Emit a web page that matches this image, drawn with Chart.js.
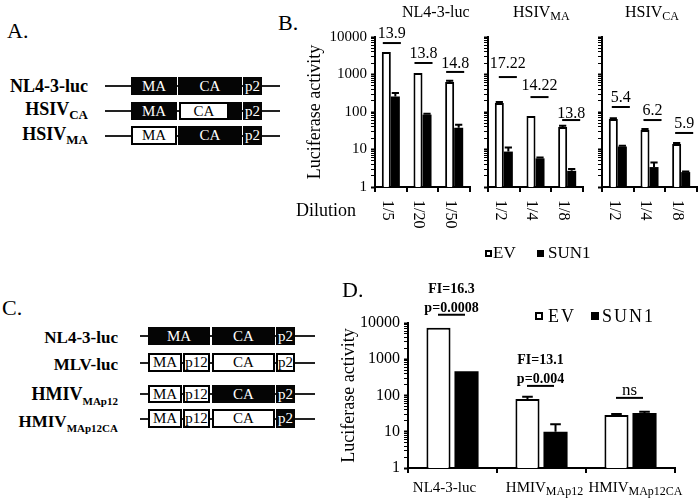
<!DOCTYPE html>
<html>
<head>
<meta charset="utf-8">
<script src="https://cdn.jsdelivr.net/npm/chart.js@4.4.0/dist/chart.umd.min.js"></script>
<style>
  html, body { margin: 0; padding: 0; background: #fff; }
  #fig { position: relative; width: 700px; height: 499px; overflow: hidden; font-family: "Liberation Serif", "Times New Roman", serif; color: #000; }
  #fig canvas { position: absolute; }
  .t { position: absolute; white-space: nowrap; line-height: 1; }
  .seg { position: absolute; box-sizing: border-box; display: flex; align-items: center; justify-content: center; font-size: 15px; line-height: 1; }
  .k { background: #050505; color: #fff; }
  .w { background: #fff; color: #000; border: 2px solid #000; }
  .ln { position: absolute; height: 2px; background: #222; }
</style>
</head>
<body>
<div id="fig">
  <canvas id="b1" width="172" height="250" style="left:304px;top:0"></canvas>
  <canvas id="b2" width="112" height="250" style="left:476px;top:0"></canvas>
  <canvas id="b3" width="110" height="250" style="left:590px;top:0"></canvas>
  <canvas id="d1" width="362" height="224" style="left:338px;top:275px"></canvas>
</div>
<script>
// panel B, NL4-3-luc
var nlDilutions = ['1/5', '1/20', '1/50'];
var nlEV = [4000, 1100, 630];
var nlEVErr = [0, 0, 50];
var nlSUN1 = [260, 85, 38];
var nlSUN1Err = [60, 5, 8];
var nlFold = ['13.9', '13.8', '14.8'];
var nlFoldAt = [6900, 2030, 1170];

// panel B, HSIV MA
var maDilutions = ['1/2', '1/4', '1/8'];
var maEV = [175, 78, 40];
var maEVErr = [10, 0, 3];
var maSUN1 = [8.8, 5.8, 2.7];
var maSUN1Err = [2.5, 0.3, 0.3];
var maFold = ['17.22', '14.22', '13.8'];
var maFoldAt = [855, 250, 61];

// panel B, HSIV CA
var caDilutions = ['1/2', '1/4', '1/8'];
var caEV = [65, 33, 14];
var caEVErr = [3, 2, 1];
var caSUN1 = [12, 3.4, 2.5];
var caSUN1Err = [0.5, 1.1, 0.1];
var caFold = ['5.4', '6.2', '5.9'];
var caFoldAt = [136, 61, 27.6];

// panel D
var dCategories = ['NL4-3-luc', 'HMIV_MAp12', 'HMIV_MAp12CA'];
var dEV = [7400, 80, 29];
var dEVErr = [0, 12, 2];
var dSUN1 = [470, 10, 33];
var dSUN1Err = [0, 6, 2.5];
var dNotes = [['FI=16.3', 'p=0.0008'], ['FI=13.1', 'p=0.004'], ['ns']];
var dNoteAt = [16900, 184, 86];

var yTickLabels = [1, 10, 100, 1000, 10000];

var serif = '"Liberation Serif", "Times New Roman", serif';
Chart.defaults.font.family = serif;
Chart.defaults.color = '#000';

var yTickValues = [];
yTickLabels.forEach(function (v, i) {
    if (i === yTickLabels.length - 1) { yTickValues.push(v); return; }
    for (var m = 1; m < 10; m++) yTickValues.push(v * m);
});

function logAxis(width, withLabels, size) {
    return {
        type: 'logarithmic', min: 1, max: 10000, z: 1,
        afterBuildTicks: function (s) { s.ticks = yTickValues.map(function (v) { return { value: v }; }); },
        afterFit: function (s) { s.width = width; },
        ticks: {
            autoSkip: false, padding: 4, font: { size: size },
            callback: function (v) { return (withLabels && yTickLabels.indexOf(v) >= 0) ? String(v) : ''; }
        },
        grid: {
            drawOnChartArea: false, tickLength: 4, color: '#000',
            tickWidth: function (c) { return (c.tick && yTickLabels.indexOf(c.tick.value) >= 0) ? 2 : 1; }
        },
        border: { color: '#000', width: 2 },
        title: { display: withLabels, text: 'Luciferase activity', font: { size: 18 }, padding: 0 }
    };
}

function catAxis(height) {
    return {
        type: 'category', z: 1,
        afterFit: function (s) { s.height = height; },
        ticks: { display: false },
        grid: { drawOnChartArea: false, offset: true, tickLength: 5, color: '#000', lineWidth: 2 },
        border: { color: '#000', width: 2 }
    };
}

function drawErrors(ctx, yScale, bars, vals, errs, capFrac) {
    bars.forEach(function (bar, i) {
        if (!errs[i]) return;
        var top = yScale.getPixelForValue(vals[i] + errs[i]);
        var hw = bar.width * capFrac;
        ctx.beginPath();
        ctx.moveTo(bar.x, bar.y); ctx.lineTo(bar.x, top);
        ctx.moveTo(bar.x - hw, top); ctx.lineTo(bar.x + hw, top);
        ctx.stroke();
    });
}

function panelB(id, yWidth, padRight, dil, ev, evErr, sun, sunErr, fold, foldAt, withLabels, lift, shift) {
    var deco = {
        id: 'deco',
        afterDraw: function (chart) {
            var ctx = chart.ctx, y = chart.scales.y, x = chart.scales.x;
            var a = chart.getDatasetMeta(0).data, b = chart.getDatasetMeta(1).data;
            ctx.save();
            ctx.strokeStyle = '#000'; ctx.fillStyle = '#000'; ctx.lineWidth = 2;
            drawErrors(ctx, y, a, ev, evErr, 0.4);
            drawErrors(ctx, y, b, sun, sunErr, 0.4);
            ctx.font = '16px ' + serif;
            ctx.textAlign = 'center'; ctx.textBaseline = 'alphabetic';
            fold.forEach(function (f, i) {
                var x0 = a[i].x - a[i].width / 2 + shift, x1 = b[i].x + b[i].width / 2 + shift;
                var yy = y.getPixelForValue(foldAt[i]);
                ctx.beginPath(); ctx.moveTo(x0, yy); ctx.lineTo(x1, yy); ctx.stroke();
                ctx.fillText(f, (x0 + x1) / 2, yy - lift[i]);
            });
            // dilution labels, read top to bottom
            ctx.textAlign = 'left'; ctx.textBaseline = 'middle';
            dil.forEach(function (d, i) {
                ctx.save();
                ctx.translate(x.getPixelForValue(i) - 4, chart.chartArea.bottom + 13);
                ctx.rotate(Math.PI / 2);
                ctx.fillText(d, 0, 0);
                ctx.restore();
            });
            ctx.restore();
        }
    };
    return new Chart(document.getElementById(id), {
        type: 'bar',
        data: {
            labels: dil,
            datasets: [
                { label: 'EV', data: ev, backgroundColor: '#fff', borderColor: '#000', borderWidth: 2, categoryPercentage: 0.57, barPercentage: 1 },
                { label: 'SUN1', data: sun, backgroundColor: '#000', borderColor: '#000', borderWidth: 0, categoryPercentage: 0.57, barPercentage: 1 }
            ]
        },
        options: {
            responsive: false, animation: false, devicePixelRatio: 1,
            layout: { padding: { left: 0, right: padRight, top: 37, bottom: 0 } },
            plugins: { legend: { display: false }, tooltip: { enabled: false } },
            scales: { x: catAxis(63), y: logAxis(yWidth, withLabels, 15) }
        },
        plugins: [deco]
    });
}

panelB('b1', 71, 6, nlDilutions, nlEV, nlEVErr, nlSUN1, nlSUN1Err, nlFold, nlFoldAt, true, [5, 5, 4], 1);
panelB('b2', 12, 5, maDilutions, maEV, maEVErr, maSUN1, maSUN1Err, maFold, maFoldAt, false, [9, 7, 2], 4);
panelB('b3', 12, 3, caDilutions, caEV, caEVErr, caSUN1, caSUN1Err, caFold, caFoldAt, false, [5, 5, 5], 3);

var dLabelShift = [-8, 3, 5];
var dDeco = {
    id: 'dDeco',
    afterDraw: function (chart) {
        var ctx = chart.ctx, y = chart.scales.y, x = chart.scales.x;
        var a = chart.getDatasetMeta(0).data, b = chart.getDatasetMeta(1).data;
        ctx.save();
        ctx.strokeStyle = '#000'; ctx.fillStyle = '#000'; ctx.lineWidth = 2;
        drawErrors(ctx, y, a, dEV, dEVErr, 0.22);
        drawErrors(ctx, y, b, dSUN1, dSUN1Err, 0.22);
        dNotes.forEach(function (lines, i) {
            var cx = x.getPixelForValue(i) - 1;
            var yy = y.getPixelForValue(dNoteAt[i]);
            ctx.beginPath(); ctx.moveTo(cx - 13.5, yy); ctx.lineTo(cx + 13.5, yy); ctx.stroke();
            ctx.textAlign = 'center'; ctx.textBaseline = 'alphabetic';
            lines.forEach(function (t, j) {
                ctx.font = t.indexOf('=') >= 0 ? 'bold 14px ' + serif : '17px ' + serif;
                ctx.fillText(t, cx, yy - 3 - (lines.length - 1 - j) * 19);
            });
        });
        // category labels with subscripts
        ctx.textAlign = 'left';
        dCategories.forEach(function (c, i) {
            var parts = c.split('_');
            ctx.font = '15px ' + serif;
            var w0 = ctx.measureText(parts[0]).width;
            ctx.font = '12px ' + serif;
            var w1 = parts[1] ? ctx.measureText(parts[1]).width : 0;
            var sx = x.getPixelForValue(i) + dLabelShift[i] - (w0 + w1) / 2;
            var base = chart.chartArea.bottom + 24;
            ctx.font = '15px ' + serif;
            ctx.fillText(parts[0], sx, base);
            if (parts[1]) {
                ctx.font = '12px ' + serif;
                ctx.fillText(parts[1], sx + w0, base + 3);
            }
        });
        ctx.restore();
    }
};

new Chart(document.getElementById('d1'), {
    type: 'bar',
    data: {
        labels: dCategories,
        datasets: [
            { label: 'EV', data: dEV, backgroundColor: '#fff', borderColor: '#000', borderWidth: 2, categoryPercentage: 0.63, barPercentage: 0.86 },
            { label: 'SUN1', data: dSUN1, backgroundColor: '#000', borderColor: '#000', borderWidth: 0, categoryPercentage: 0.63, barPercentage: 0.86 }
        ]
    },
    options: {
        responsive: false, animation: false, devicePixelRatio: 1,
        layout: { padding: { left: 0, right: 25, top: 48, bottom: 0 } },
        plugins: { legend: { display: false }, tooltip: { enabled: false } },
        scales: { x: catAxis(31), y: logAxis(70, true, 16) }
    },
    plugins: [dDeco]
});

// text and construct diagrams
var fig = document.getElementById('fig');
function text(x, base, html, size, opts) {
    opts = opts || {};
    var d = document.createElement('div');
    d.className = 't';
    d.innerHTML = html;
    d.style.fontSize = size + 'px';
    d.style.top = (base - 0.84 * size) + 'px';
    if (opts.bold) d.style.fontWeight = 'bold';
    if (opts.spacing) d.style.letterSpacing = opts.spacing + 'px';
    if (opts.right) d.style.right = (700 - x) + 'px';
    else d.style.left = x + 'px';
    fig.appendChild(d);
}
function sub(s, size, drop) {
    return '<span style="font-size:' + size + 'px;position:relative;top:' + drop + 'px">' + s + '</span>';
}
function square(x, y, s, fill) {
    var d = document.createElement('div');
    d.style.cssText = 'position:absolute;box-sizing:border-box;left:' + x + 'px;top:' + y + 'px;width:' + s + 'px;height:' + s + 'px;' +
        (fill ? 'background:#000;' : 'background:#fff;border:2px solid #000;');
    fig.appendChild(d);
}
function row(y, h, x0, x1, segs) {
    var l = document.createElement('div');
    l.className = 'ln';
    l.style.left = x0 + 'px'; l.style.width = (x1 - x0) + 'px'; l.style.top = (y + h / 2 - 1) + 'px';
    fig.appendChild(l);
    segs.forEach(function (s) {
        var d = document.createElement('div');
        d.className = 'seg ' + s[2];
        d.style.left = s[0] + 'px'; d.style.width = (s[1] - s[0]) + 'px';
        d.style.top = y + 'px'; d.style.height = h + 'px';
        d.textContent = s[3] || '';
        fig.appendChild(d);
    });
}

// panel letters
text(7, 38, 'A.', 22);
text(278, 30, 'B.', 22);
text(2, 315, 'C.', 22);
text(342, 297, 'D.', 22);

// panel A
row(77, 18, 105, 280, [[131, 177, 'k', 'MA'], [178, 242, 'k', 'CA'], [243, 262, 'k', 'p2']]);
row(102, 18, 105, 280, [[131, 177, 'k', 'MA'], [179, 229, 'w', 'CA'], [229, 242, 'k', ''], [243, 262, 'k', 'p2']]);
row(126, 19, 105, 280, [[131, 177, 'w', 'MA'], [178, 242, 'k', 'CA'], [243, 262, 'k', 'p2']]);
text(88, 92, 'NL4-3-luc', 18, { bold: true, right: true });
text(88, 115, 'HSIV' + sub('CA', 13, 4), 18, { bold: true, right: true });
text(88, 140, 'HSIV' + sub('MA', 13, 4), 18, { bold: true, right: true });

// panel B text
text(402, 17, 'NL4-3-luc', 16);
text(513, 17, 'HSIV' + sub('MA', 12, 3), 16);
text(625, 17, 'HSIV' + sub('CA', 12, 3), 16);
text(356, 216, 'Dilution', 18, { right: true });
square(485, 250, 7, false);
text(493, 258, 'EV', 17);
square(537, 250, 7, true);
text(548, 258, 'SUN1', 17);

// panel C
row(327, 18, 140, 315, [[148, 210, 'k', 'MA'], [212, 275, 'k', 'CA'], [276, 295, 'k', 'p2']]);
row(353, 19, 140, 315, [[148, 182, 'w', 'MA'], [183, 210, 'w', 'p12'], [212, 275, 'w', 'CA'], [276, 295, 'w', 'p2']]);
row(385, 18, 140, 315, [[148, 182, 'w', 'MA'], [183, 210, 'w', 'p12'], [212, 275, 'k', 'CA'], [276, 295, 'k', 'p2']]);
row(409, 19, 140, 315, [[148, 182, 'w', 'MA'], [183, 210, 'w', 'p12'], [212, 275, 'w', 'CA'], [276, 295, 'k', 'p2']]);
text(118, 343, 'NL4-3-luc', 17, { bold: true, right: true });
text(118, 370, 'MLV-luc', 17, { bold: true, right: true });
text(118, 400, 'HMIV' + sub('MAp12', 11, 5), 18, { bold: true, right: true });
text(118, 427, 'HMIV' + sub('MAp12CA', 11, 5), 17, { bold: true, right: true });

// panel D legend
square(535, 312, 8, false);
text(548, 322, 'EV', 18, { spacing: 2 });
square(591, 312, 8, true);
text(602, 322, 'SUN1', 18, { spacing: 2 });
</script>
</body>
</html>
